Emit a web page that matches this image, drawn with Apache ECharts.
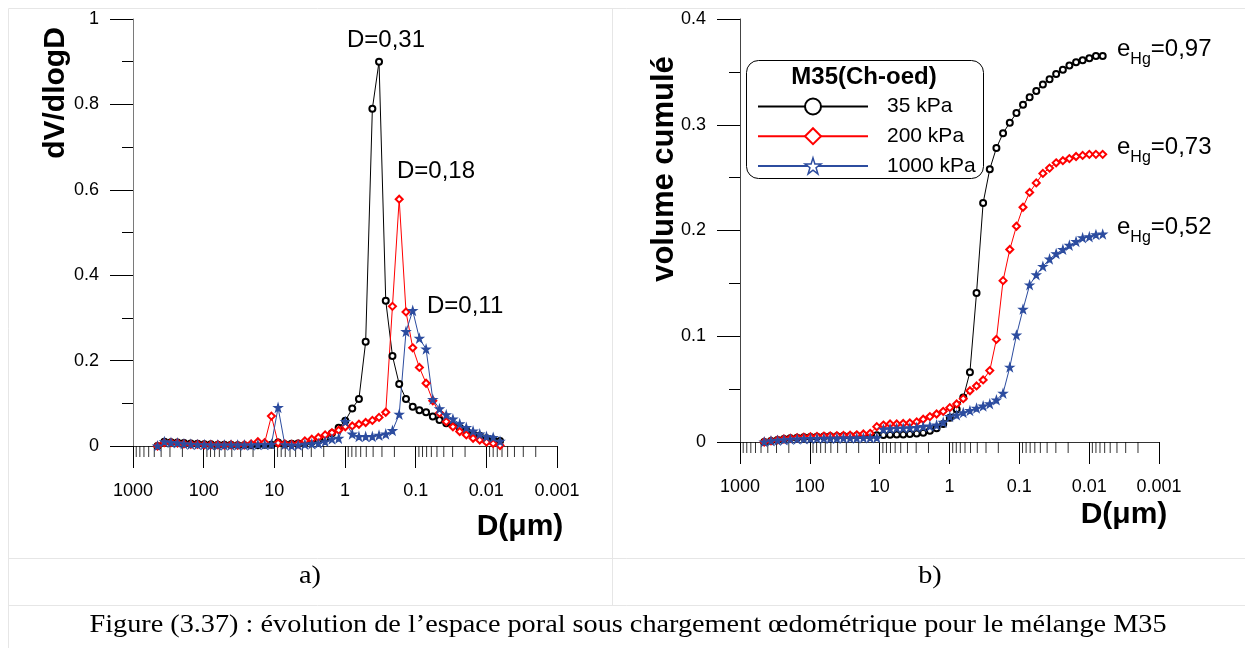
<!DOCTYPE html>
<html><head><meta charset="utf-8">
<script src="https://cdn.jsdelivr.net/npm/echarts@6/dist/echarts.min.js"></script>
<style>html,body{margin:0;padding:0;background:#fff}#c{width:1245px;height:648px}</style>
</head><body><div id="c"></div>
<script>
// ---- data ----
const diameters = [450, 360, 290, 235, 190, 152, 122, 98, 79, 63, 51, 41, 33, 26.5, 21.3, 17.1, 13.7, 11.0, 8.85, 7.1,
  5.7, 4.6, 3.7, 2.95, 2.38, 1.91, 1.53, 1.23, 0.99, 0.79, 0.635, 0.51, 0.41, 0.33, 0.265, 0.213, 0.171, 0.137, 0.11, 0.0886,
  0.0712, 0.0572, 0.046, 0.0369, 0.0297, 0.0238, 0.0192, 0.0154, 0.0124, 0.00994, 0.008, 0.0064];

const dv35 = [0, 0.010, 0.009, 0.008, 0.007, 0.006, 0.005, 0.004, 0.004, 0.003,
  0.003, 0.003, 0.002, 0.002, 0.002, 0.002, 0.003, 0.003, 0.008, 0.004,
  0.005, 0.006, 0.007, 0.010, 0.013, 0.018, 0.030, 0.043, 0.059, 0.088,
  0.110, 0.244, 0.790, 0.900, 0.340, 0.211, 0.145, 0.110, 0.092, 0.084,
  0.079, 0.069, 0.061, 0.053, 0.048, 0.042, 0.036, 0.028, 0.024, 0.018,
  0.015, 0.012];
const dv200 = [0, 0.008, 0.008, 0.007, 0.005, 0.004, 0.004, 0.003, 0.003, 0.003,
  0.002, 0.003, 0.002, 0.003, 0.005, 0.010, 0.008, 0.070, 0.007, 0.005,
  0.004, 0.005, 0.012, 0.016, 0.020, 0.026, 0.031, 0.037, 0.045, 0.047,
  0.051, 0.055, 0.060, 0.067, 0.079, 0.327, 0.578, 0.314, 0.230, 0.184,
  0.147, 0.106, 0.077, 0.057, 0.045, 0.034, 0.026, 0.018, 0.014, 0.009,
  0.006, 0.001];
const dv1000 = [0, 0.010, 0.008, 0.007, 0.005, 0.004, 0.003, 0.003, 0.002, 0.002,
  0.002, 0.002, 0.002, 0.002, 0.002, 0.003, 0.003, 0.004, 0.090, 0.003,
  0.001, 0.002, 0.004, 0.005, 0.006, 0.010, 0.016, 0.018, 0.057, 0.028,
  0.022, 0.022, 0.022, 0.025, 0.028, 0.036, 0.074, 0.268, 0.317, 0.252,
  0.227, 0.109, 0.087, 0.073, 0.063, 0.052, 0.043, 0.035, 0.028, 0.022,
  0.020, 0.011];

const cum35 = [0, 0.001, 0.002, 0.0028, 0.0035, 0.004, 0.0044, 0.0047, 0.005, 0.0052,
  0.0054, 0.0055, 0.0056, 0.0057, 0.0058, 0.006, 0.0062, 0.0064, 0.0066, 0.0068,
  0.007, 0.0072, 0.0075, 0.008, 0.0088, 0.0107, 0.013, 0.017, 0.023, 0.031,
  0.042, 0.066, 0.141, 0.226, 0.258, 0.278, 0.292, 0.302, 0.311, 0.319,
  0.326, 0.332, 0.338, 0.343, 0.348, 0.352, 0.356, 0.359, 0.361, 0.363,
  0.365, 0.365];
const cum200 = [0, 0.001, 0.002, 0.0028, 0.0035, 0.004, 0.0045, 0.005, 0.0053, 0.0056,
  0.0058, 0.006, 0.0062, 0.0064, 0.0068, 0.0076, 0.0082, 0.0145, 0.016, 0.017,
  0.017, 0.0175, 0.018, 0.019, 0.0215, 0.024, 0.0265, 0.029, 0.0325, 0.036,
  0.041, 0.0485, 0.053, 0.0587, 0.0675, 0.097, 0.1526, 0.182, 0.204, 0.222,
  0.236, 0.245, 0.254, 0.259, 0.264, 0.266, 0.268, 0.270, 0.271, 0.272,
  0.272, 0.272];
const cum1000 = [0, 0.001, 0.0015, 0.002, 0.0025, 0.0028, 0.003, 0.0032, 0.0033, 0.0034,
  0.0035, 0.0035, 0.0036, 0.0036, 0.0037, 0.0038, 0.0039, 0.004, 0.012, 0.0125,
  0.013, 0.013, 0.0133, 0.0137, 0.0145, 0.015, 0.016, 0.0186, 0.024, 0.0255,
  0.0277, 0.0296, 0.0319, 0.034, 0.036, 0.0397, 0.046, 0.0707, 0.101, 0.1255,
  0.1485, 0.158, 0.166, 0.173, 0.178, 0.182, 0.186, 0.1895, 0.193, 0.194,
  0.196, 0.1965];

const seriesNames = ['35 kPa', '200 kPa', '1000 kPa'];
const legendTitle = 'M35(Ch-oed)';
const peakLabels = ['D=0,31', 'D=0,18', 'D=0,11'];
const voidRatioLabels = ['0,97', '0,73', '0,52'];
const xAxisRange = [0.001, 1000];
const xMinorMantissas = [2, 3, 4, 5, 6, 7, 8, 9];
const caption = 'Figure (3.37) : évolution de l’espace poral sous chargement œdométrique pour le mélange M35';

// ---- build ----
const xMinorTicks = [];
for (let e = -3; e < 3; e++) for (const m of xMinorMantissas) xMinorTicks.push(+(m * Math.pow(10, e)).toPrecision(3));

const BLACK = '#000', RED = '#ff0000', BLUE = '#2c4c9f';
const STAR = 'path://M50,2 L61,36 L97,36 L68,57 L79,92 L50,71 L21,92 L32,57 L3,36 L39,36 Z';
const SANS = '"Liberation Sans", Arial, sans-serif';
const SERIF = '"Liberation Serif", "DejaVu Serif", serif';

function xAx(gi) {
  return {
    type: 'log', gridIndex: gi, logBase: 10, min: xAxisRange[0], max: xAxisRange[1], inverse: true,
    axisLine: { show: true, lineStyle: { color: '#333', width: 1 } },
    axisTick: { show: true, inside: false, length: 22, lineStyle: { color: '#000', width: 1 } },
    minorTick: { show: false },
    axisLabel: { margin: 36, fontSize: 18, fontFamily: SANS, color: '#000', showMinLabel: true, showMaxLabel: true,
      formatter: v => String(+(+v).toPrecision(4)) },
    splitLine: { show: false }
  };
}
function yAx(gi, max, interval, lineColor) {
  return {
    type: 'value', gridIndex: gi, min: 0, max: max, interval: interval,
    axisLine: { show: true, lineStyle: { color: lineColor, width: 1 } },
    axisTick: { show: true, inside: false, length: 23, lineStyle: { color: '#000' } },
    minorTick: { show: true, splitNumber: 2, length: 11, lineStyle: { color: '#000' } },
    axisLabel: { margin: 34, fontSize: 18, fontFamily: SANS, color: '#000' },
    splitLine: { show: false }
  };
}
function line(name, gi, ys, symbol, color, size) {
  return {
    name, type: 'line', xAxisIndex: gi, yAxisIndex: gi,
    data: diameters.map((d, i) => [d, ys[i]]),
    symbol, symbolSize: size, showSymbol: true, showAllSymbol: true, clip: false,
    lineStyle: { color, width: 1 },
    itemStyle: { color, borderColor: color, borderWidth: 1.2 },
    emphasis: { disabled: true }, z: 3
  };
}
function minorTicks(gi) {
  return {
    type: 'scatter', xAxisIndex: gi, yAxisIndex: gi, silent: true, clip: false,
    data: xMinorTicks.map(v => [v, 0]), symbol: 'rect', symbolSize: [1, 11], symbolOffset: [0, 5.5],
    itemStyle: { color: '#000' }, z: 1
  };
}

// caption: 25px serif, stretched horizontally to the reference width
const CAP_FONT = 25;
const mctx = document.createElement('canvas').getContext('2d');
mctx.font = CAP_FONT + 'px ' + SERIF;
const capScale = 1077 / mctx.measureText(caption).width;

const gline = (x1, y1, x2, y2) => ({ type: 'line', shape: { x1, y1, x2, y2 }, style: { stroke: '#e6e6e6', lineWidth: 1 }, silent: true });
const txt = (x, y, text, font, extra) => Object.assign({ type: 'text', x, y, silent: true,
  style: Object.assign({ text, font, fill: '#000', align: 'left', verticalAlign: 'top' }, extra || {}) });
const ehg = (x, y, v) => ({ type: 'text', x, y, silent: true, style: {
  text: '{b|e}{s|Hg}{b|=' + v + '}', verticalAlign: 'top', align: 'left',
  rich: { b: { fontSize: 24, fontFamily: SANS, fill: '#000', lineHeight: 28, verticalAlign: 'top' },
          s: { fontSize: 16, fontFamily: SANS, fill: '#000', lineHeight: 16, padding: [14, 0, 0, 0], verticalAlign: 'top' } } } });

const chart = echarts.init(document.getElementById('c'), null, { renderer: 'canvas' });
chart.setOption({
  animation: false,
  backgroundColor: '#fff',
  grid: [
    { left: 133, top: 19, width: 424, height: 427 },
    { left: 740, top: 19, width: 419, height: 423 }
  ],
  xAxis: [xAx(0), xAx(1)],
  yAxis: [yAx(0, 1, 0.2, '#7a7a7a'), yAx(1, 0.4, 0.1, '#444')],
  legend: {
    show: true, orient: 'vertical', left: 757, top: 96, padding: 0,
    itemWidth: 110, itemHeight: 20, itemGap: 8.7, selectedMode: false, z: 5,
    textStyle: { fontSize: 21, fontFamily: SANS, color: '#000', padding: [0, 0, 0, 14] },
    data: [
      { name: seriesNames[0] },
      { name: seriesNames[1] },
      { name: seriesNames[2], itemStyle: { color: '#fff', borderColor: BLUE, borderWidth: 1.5 } }
    ]
  },
  series: [
    minorTicks(0), minorTicks(1),
    line(seriesNames[0], 0, dv35, 'emptyCircle', BLACK, 6),
    line(seriesNames[1], 0, dv200, 'emptyDiamond', RED, 7),
    line(seriesNames[2], 0, dv1000, STAR, BLUE, 8),
    line(seriesNames[0], 1, cum35, 'emptyCircle', BLACK, 6),
    line(seriesNames[1], 1, cum200, 'emptyDiamond', RED, 7),
    line(seriesNames[2], 1, cum1000, STAR, BLUE, 8)
  ],
  graphic: [
    // table frame
    gline(8.5, 8.5, 1245, 8.5), gline(8.5, 8.5, 8.5, 648), gline(612.5, 8.5, 612.5, 605.5),
    gline(8.5, 558.5, 1245, 558.5), gline(8.5, 605.5, 1245, 605.5),
    // legend box + title
    { type: 'rect', z: 4, shape: { x: 746.5, y: 60.5, width: 237, height: 118, r: 12 }, style: { fill: '#fff', stroke: '#000', lineWidth: 1 }, silent: true },
    Object.assign(txt(864, 77, legendTitle, 'bold 24px ' + SANS, { align: 'center', verticalAlign: 'middle' }), { z: 5 }),
    // peak annotations
    txt(347, 28.6, peakLabels[0], '24px ' + SANS),
    txt(397, 159.6, peakLabels[1], '24px ' + SANS),
    txt(427, 294, peakLabels[2], '24px ' + SANS),
    // void ratio annotations
    ehg(1117, 37.6, voidRatioLabels[0]),
    ehg(1117, 135.6, voidRatioLabels[1]),
    ehg(1117, 215.6, voidRatioLabels[2]),
    // axis titles
    Object.assign(txt(56, 93, 'dV/dlogD', 'bold 30px ' + SANS, { align: 'center', verticalAlign: 'middle' }), { rotation: Math.PI / 2 }),
    Object.assign(txt(664, 169, 'volume cumulé', 'bold 31px ' + SANS, { align: 'center', verticalAlign: 'middle' }), { rotation: Math.PI / 2 }),
    txt(520, 527, 'D(μm)', 'bold 30px ' + SANS, { align: 'center', verticalAlign: 'middle' }),
    txt(1124, 515, 'D(μm)', 'bold 30px ' + SANS, { align: 'center', verticalAlign: 'middle' }),
    // captions
    Object.assign(txt(310, 576, 'a)', CAP_FONT + 'px ' + SERIF, { align: 'center', verticalAlign: 'middle' }), { scaleX: capScale }),
    Object.assign(txt(930, 576, 'b)', CAP_FONT + 'px ' + SERIF, { align: 'center', verticalAlign: 'middle' }), { scaleX: capScale }),
    Object.assign(txt(628, 625, caption, CAP_FONT + 'px ' + SERIF, { align: 'center', verticalAlign: 'middle' }), { scaleX: capScale })
  ]
});
</script>
</body></html>
